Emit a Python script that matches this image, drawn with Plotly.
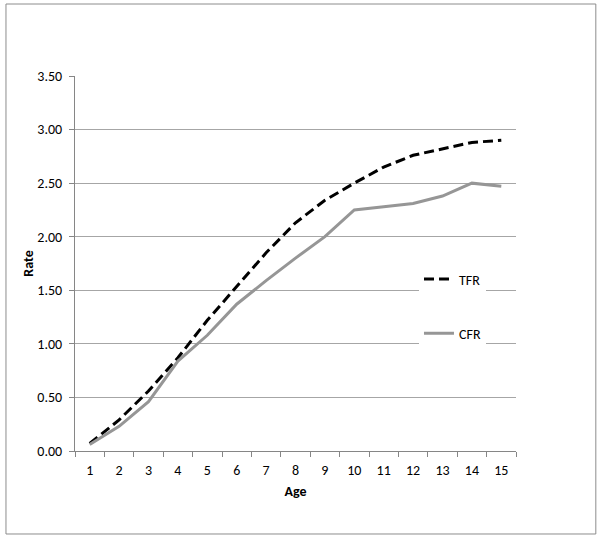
import plotly.graph_objects as go

ages = [str(i) for i in range(1, 16)]
tfr = [0.07, 0.29, 0.56, 0.87, 1.22, 1.53, 1.85, 2.13, 2.34, 2.50, 2.65, 2.76, 2.82, 2.88, 2.90]
cfr = [0.06, 0.23, 0.46, 0.84, 1.08, 1.37, 1.59, 1.80, 2.00, 2.25, 2.28, 2.31, 2.38, 2.50, 2.47]
y_ticks = [0.0, 0.5, 1.0, 1.5, 2.0, 2.5, 3.0, 3.5]
y_tick_labels = ["%.2f" % v for v in y_ticks]

FONT = "Carlito, Calibri, Lato, sans-serif"

fig = go.Figure()
fig.add_trace(go.Scatter(x=ages, y=tfr, name="TFR", mode="lines", legendgroup="a",
                         line=dict(color="black", width=3, dash="10px,5px")))
fig.add_trace(go.Scatter(x=ages, y=cfr, name="CFR", mode="lines", legendgroup="b",
                         line=dict(color="#969696", width=3)))

fig.update_layout(
    width=603, height=541,
    margin=dict(l=75, r=87, t=76, b=90),
    paper_bgcolor="white", plot_bgcolor="white",
    font=dict(family=FONT, size=14, color="black"),
    showlegend=True,
    legend=dict(x=0.78, y=0.50, xanchor="left", yanchor="top", bgcolor="white",
                traceorder="grouped", tracegroupgap=33, font=dict(size=14),
                itemwidth=30),
    xaxis=dict(type="category", range=[-0.5, 14.5], showgrid=False, showline=True,
               linecolor="#868686", ticks="outside", tickson="boundaries", ticklen=5,
               tickcolor="#868686", ticklabelstandoff=6,
               title=dict(text="<b>Age</b>", font=dict(size=14), standoff=8),
               zeroline=False),
    yaxis=dict(range=[0, 3.5], tickvals=y_ticks, ticktext=y_tick_labels,
               showgrid=True, gridcolor="#a6a6a6", gridwidth=1,
               showline=True, linecolor="#868686", ticks="outside", ticklen=5,
               tickcolor="#868686", zeroline=False, ticklabelstandoff=4,
               title=dict(text="<b>Rate</b>", font=dict(size=14), standoff=0)),
    shapes=[dict(type="rect", xref="paper", yref="paper",
                 x0=-0.1565, x1=1.181, y0=-0.2213, y1=1.192,
                 line=dict(color="#8c8c8c", width=1), fillcolor="rgba(0,0,0,0)", layer="below")],
)

fig.write_html("out.html", config={"displayModeBar": False},
               post_script="document.body.style.margin='0px';")
